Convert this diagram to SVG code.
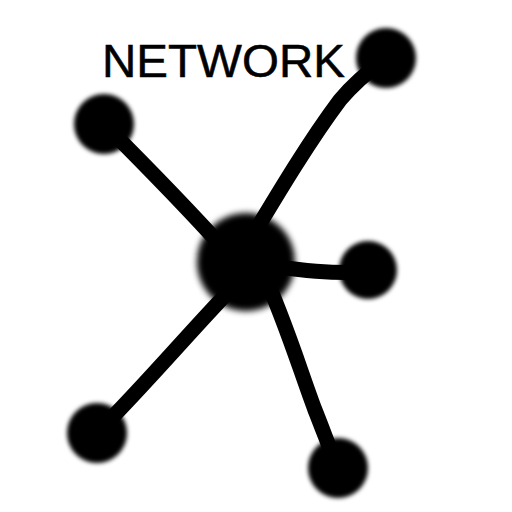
<svg xmlns="http://www.w3.org/2000/svg" width="512" height="512" viewBox="0 0 512 512">
<defs>
<filter id="blur" x="-30%" y="-30%" width="160%" height="160%"><feGaussianBlur stdDeviation="2"/></filter>
<filter id="blurBig" x="-30%" y="-30%" width="160%" height="160%"><feGaussianBlur stdDeviation="3"/></filter>
</defs>
<style>
.edge{fill:none;stroke:#000;stroke-width:15;stroke-linecap:round;stroke-linejoin:round}
.node{fill:#000}
.label{font-family:"Liberation Sans",sans-serif;font-size:46px;fill:#000;stroke:#000;stroke-width:0.5}
</style>
<rect width="512" height="512" fill="#fff"/>
<g id="connectors">
<path class="edge" d="M104,124 C140,160 180,200 225,250"/>
<path class="edge" d="M250,240 C280,190 310,140 340,100 C355,82 370,70 386,58"/>
<path class="edge" d="M270,266 C300,270 330,274 368,272"/>
<path class="edge" d="M240,280 C200,320 150,380 97,433"/>
<path class="edge" d="M262,270 C285,320 300,370 315,410 C325,435 330,450 338,468"/>
</g>
<g id="center" filter="url(#blurBig)"><circle class="node" cx="246" cy="262" r="49"/></g>
<g id="n-topleft" filter="url(#blur)"><circle class="node" cx="104" cy="124" r="30"/></g>
<g id="n-topright" filter="url(#blur)"><circle class="node" cx="386" cy="58" r="30"/></g>
<g id="n-right" filter="url(#blur)"><circle class="node" cx="368" cy="270" r="29"/></g>
<g id="n-bottomleft" filter="url(#blur)"><circle class="node" cx="97" cy="433" r="30"/></g>
<g id="n-bottomright" filter="url(#blur)"><circle class="node" cx="338" cy="468" r="30"/></g>
<g id="title"><text class="label" x="102" y="77" textLength="243" lengthAdjust="spacingAndGlyphs">NETWORK</text></g>
</svg>
